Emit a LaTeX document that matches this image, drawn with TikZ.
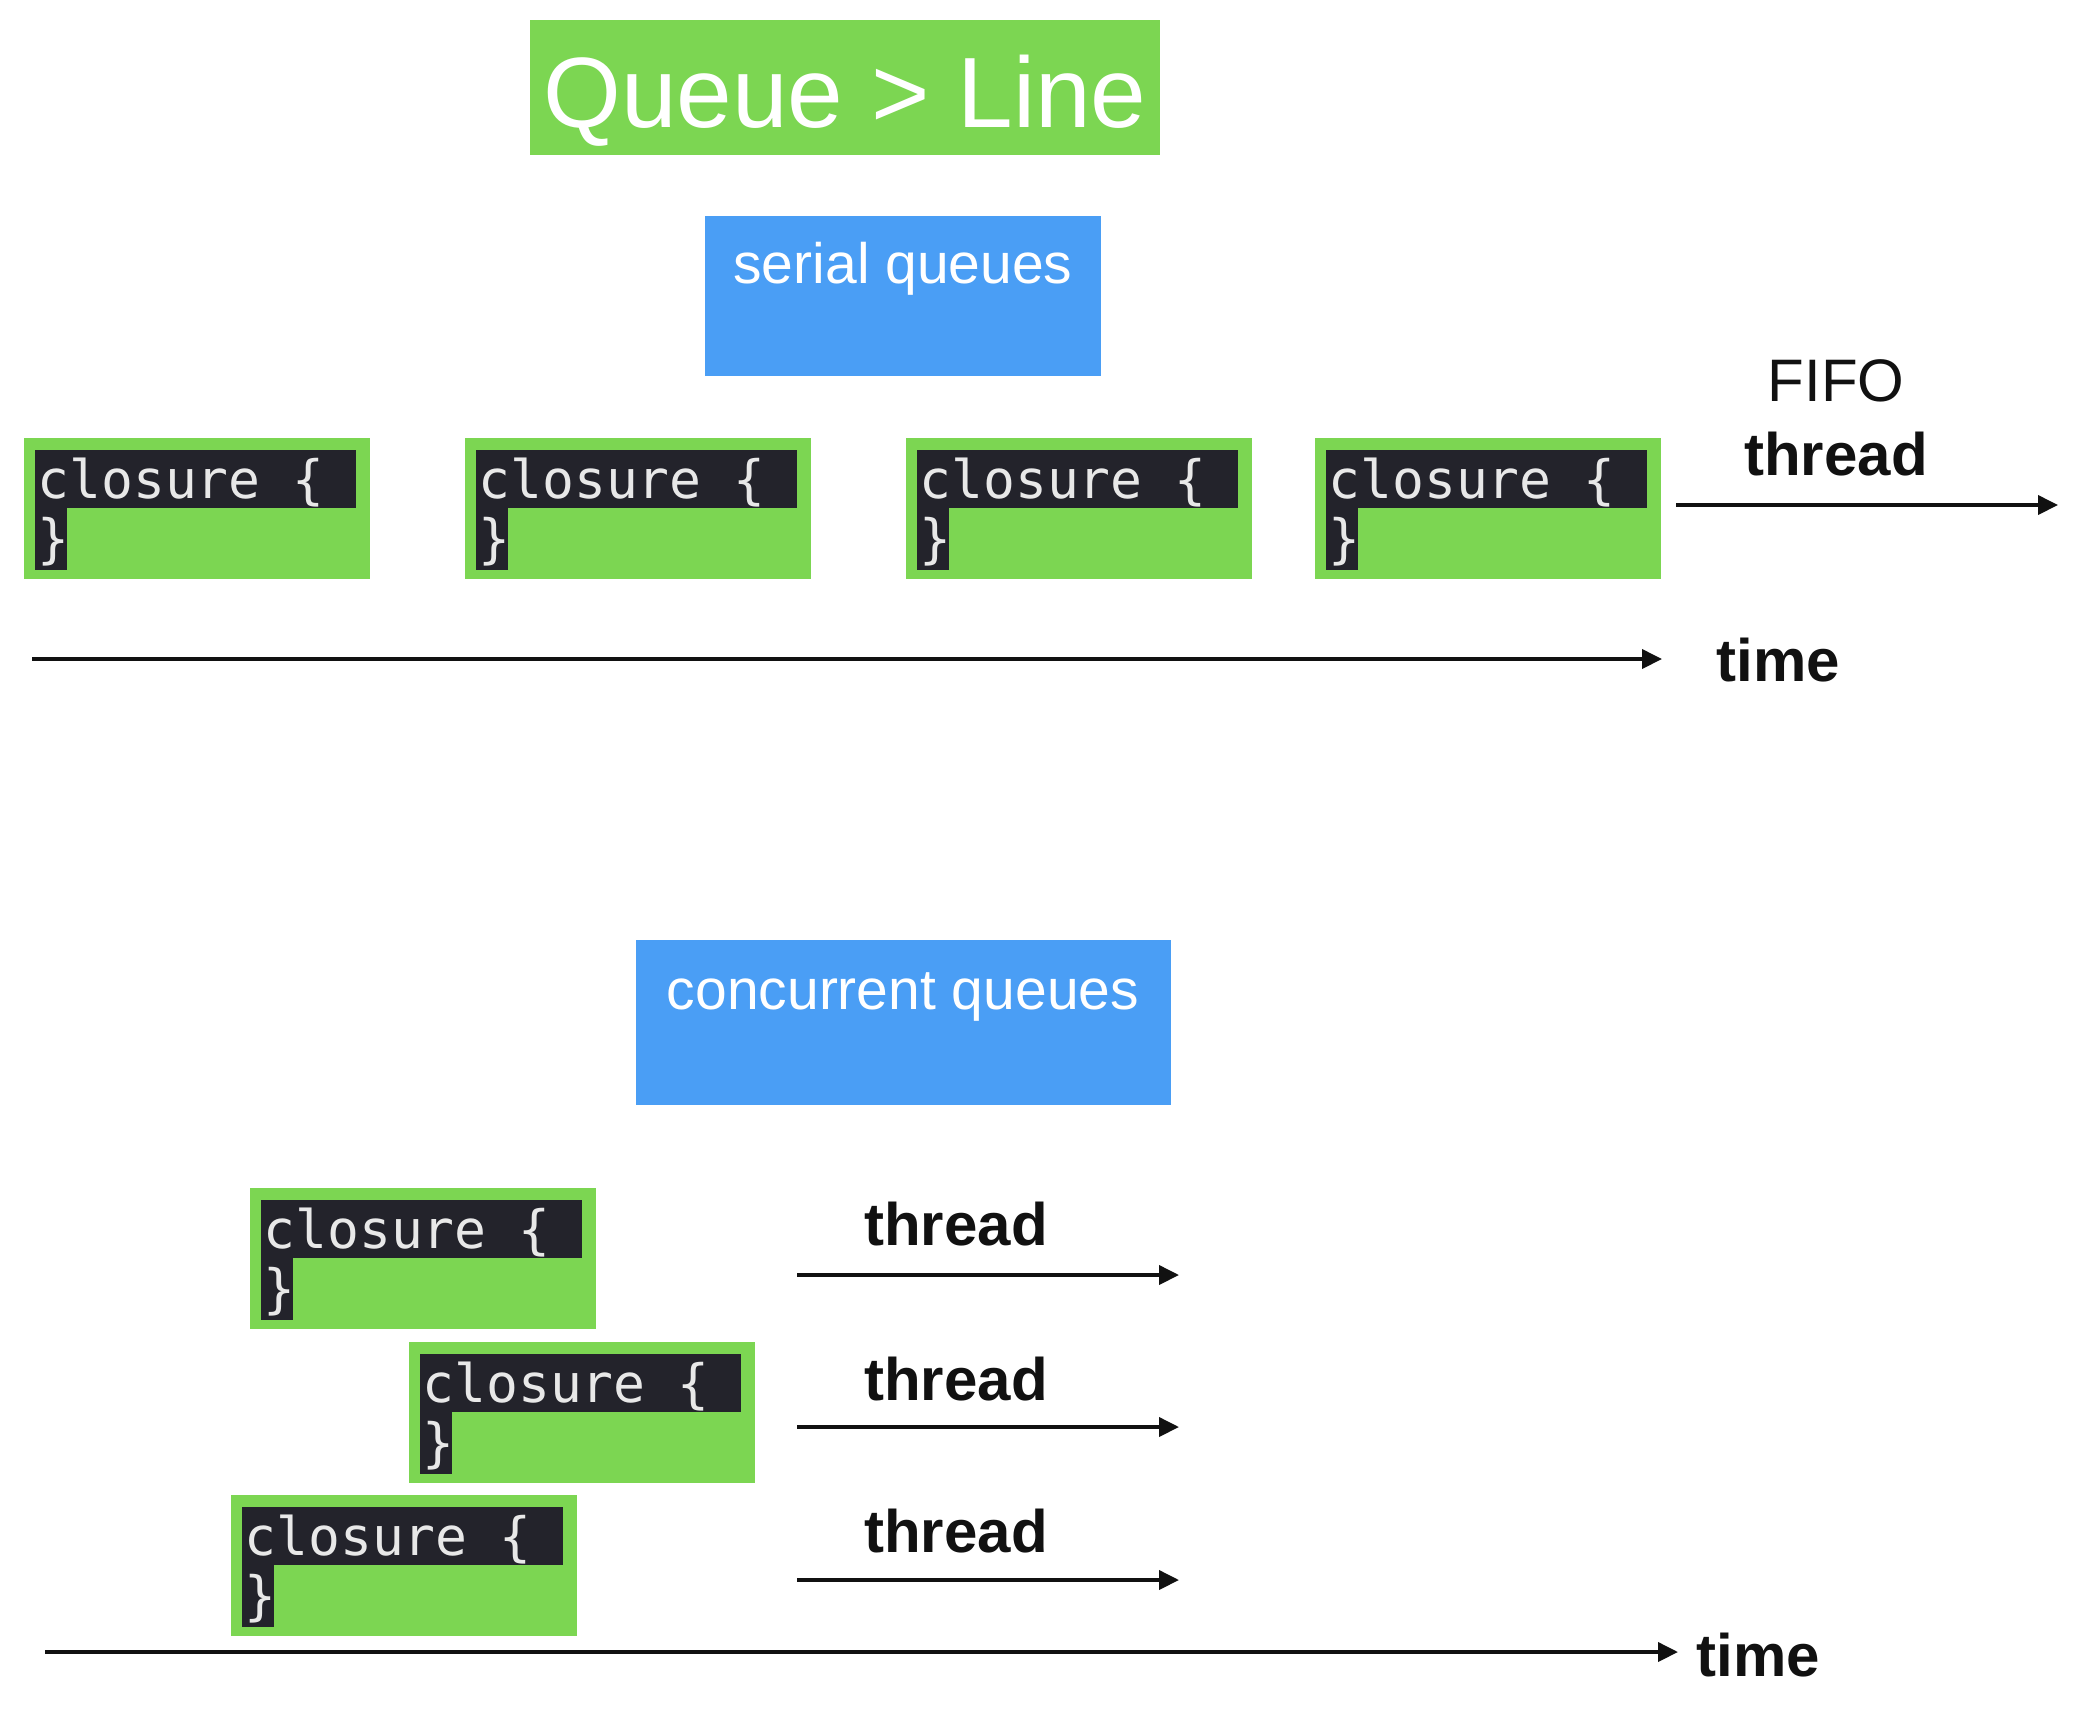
\documentclass[tikz,border=0pt]{standalone}
\usepackage{fontspec}
\setmainfont{Liberation Sans}
\newfontfamily\codefont{DejaVu Sans Mono}
\usetikzlibrary{calc,arrows.meta}
\definecolor{qgreen}{RGB}{124,214,82}
\definecolor{qblue}{RGB}{74,158,245}
\definecolor{codebg}{RGB}{35,35,43}
\definecolor{codefg}{RGB}{232,232,232}
\definecolor{ink}{RGB}{17,17,17}
\tikzset{
  closurebg/.style={fill=qgreen, draw=none, minimum width=173pt, minimum height=70.5pt, inner sep=0pt, anchor=north west},
  codetext/.style={text=codefg, font=\codefont\fontsize{26.5pt}{30pt}\selectfont, inner sep=0pt, anchor=base west},
  bluebox/.style={fill=qblue, draw=none, inner sep=0pt, anchor=north west},
  bluetext/.style={text=white, font=\fontsize{28.5pt}{32pt}\selectfont, inner sep=0pt, anchor=base},
  label/.style={text=ink, font=\fontsize{30pt}{34pt}\selectfont, inner sep=0pt, anchor=base},
  boldlabel/.style={label, font=\bfseries\fontsize{30pt}{34pt}\selectfont},
  arr/.style={draw=ink, line width=1.9pt, -{Triangle[length=10pt,width=9.5pt]}},
}
\newcommand\qclosure[3]{%
  \node[closurebg] (#1) at (#2,#3) {};
  \fill[codebg] ($(#1.north west)+(11,12)$) rectangle ($(#1.north east)+(-15,70)$);
  \fill[codebg] ($(#1.north west)+(11,70)$) rectangle ($(#1.south west)+(43,-10)$);
  \node[codetext] (#1-a) at ($(#1.north west)+(13,60)$) {closure \{};
  \node[codetext] (#1-b) at ($(#1.north west)+(13,119)$) {\}};
}
\begin{document}
\begin{tikzpicture}[x=0.5pt,y=-0.5pt]
\useasboundingbox (0,0) rectangle (2082,1710);
\fill[white] (0,0) rectangle (2082,1710);

% title
\node[fill=qgreen, draw=none, inner sep=0pt, minimum width=315pt, minimum height=67.5pt] (title) at (845,87.5) {};
\node[text=white, inner sep=0pt, anchor=base, font=\fontsize{50pt}{56pt}\selectfont] (titletxt) at (845,127) {Queue > Line};

% serial queues
\node[bluebox, minimum width=198pt, minimum height=80pt] (serialbox) at (705,216) {};
\node[bluetext] (serialtxt) at (903,283) {serial queues};

\qclosure{s1}{24}{438}
\qclosure{s2}{465}{438}
\qclosure{s3}{906}{438}
\qclosure{s4}{1315}{438}

\node[label] (fifo) at (1836,401) {FIFO};
\node[boldlabel] (sthread) at (1836,475) {thread};
\coordinate (sthA) at (1676,505);
\coordinate (sthB) at (2058,505);
\draw[arr] (sthA) -- (sthB);

\coordinate (stA) at (32,659);
\coordinate (stB) at (1662,659);
\draw[arr] (stA) -- (stB);
\node[boldlabel, anchor=base west] (stime) at (1716,681) {time};

% concurrent queues
\node[bluebox, minimum width=267.5pt, minimum height=82.5pt] (concbox) at (636,940) {};
\node[bluetext] (conctxt) at (903,1009) {concurrent queues};

\qclosure{c1}{250}{1188}
\qclosure{c2}{409}{1342}
\qclosure{c3}{231}{1495}

\node[boldlabel] (ct1) at (956,1245) {thread};
\node[boldlabel] (ct2) at (956,1400) {thread};
\node[boldlabel] (ct3) at (956,1552) {thread};
\coordinate (c1A) at (797,1275); \coordinate (c1B) at (1179,1275);
\coordinate (c2A) at (797,1427); \coordinate (c2B) at (1179,1427);
\coordinate (c3A) at (797,1580); \coordinate (c3B) at (1179,1580);
\draw[arr] (c1A) -- (c1B);
\draw[arr] (c2A) -- (c2B);
\draw[arr] (c3A) -- (c3B);

\coordinate (ctA) at (45,1652);
\coordinate (ctB) at (1678,1652);
\draw[arr] (ctA) -- (ctB);
\node[boldlabel, anchor=base west] (ctime) at (1696,1676) {time};
\end{tikzpicture}
\end{document}
